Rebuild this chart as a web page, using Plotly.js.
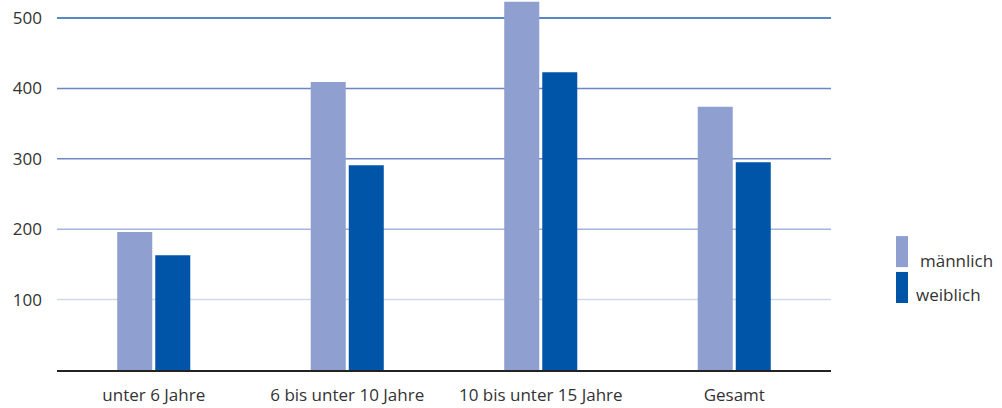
<!DOCTYPE html>
<html>
<head>
<meta charset="utf-8">
<script src="https://cdn.plot.ly/plotly-3.0.1.min.js"></script>
<style>html,body{margin:0;padding:0;background:#fff;}#chart{width:1002px;height:408px;}</style>
</head>
<body>
<div id="chart"></div>
<script>
const categories = ["unter 6 Jahre", "6 bis unter 10 Jahre", "10 bis unter 15 Jahre", "Gesamt"];
const maennlich = [196, 409, 523, 374];
const weiblich = [163, 291, 423, 295];
const seriesNames = ["männlich", "weiblich"];
const gridValues = [100, 200, 300, 400, 500];
const gridColors = ["#cfd9ec", "#a3b5dd", "#7089c5", "#6a87c4", "#1f60b5"];

const colM = "#8f9fd0";
const colW = "#0055a8";
const font = {family: "'Open Sans', Lato, sans-serif", size: 17, color: "#333333"};

const traces = [
  {type: "bar", name: seriesNames[0], x: categories, y: maennlich, marker: {color: colM}, hoverinfo: "x+y"},
  {type: "bar", name: seriesNames[1], x: categories, y: weiblich, marker: {color: colW}, hoverinfo: "x+y"}
];

const shapes = gridValues.map((v, i) => ({
  type: "line", xref: "paper", yref: "y", x0: 0, x1: 1, y0: v, y1: v,
  line: {color: gridColors[i], width: 1.5}, layer: "below"
}));
// custom legend swatches
const legendItems = [
  {name: seriesNames[0], color: colM, y0: 0.278, y1: 0.362, ty: 0.296, tx: 1.112},
  {name: seriesNames[1], color: colW, y0: 0.181, y1: 0.265, ty: 0.203, tx: 1.107}
];
legendItems.forEach(it => shapes.push({
  type: "rect", xref: "paper", yref: "paper", x0: 1.084, x1: 1.0995, y0: it.y0, y1: it.y1,
  fillcolor: it.color, line: {width: 0}
}));
const annotations = legendItems.map(it => ({
  xref: "paper", yref: "paper", x: it.tx, y: it.ty, text: it.name, showarrow: false,
  xanchor: "left", yanchor: "middle", font: font
}));

const layout = {
  width: 1002, height: 408,
  margin: {l: 57, r: 171, t: 0, b: 38},
  paper_bgcolor: "#ffffff", plot_bgcolor: "#ffffff",
  font: font,
  showlegend: false,
  barmode: "group", bargap: 0.607, bargroupgap: 0.079,
  xaxis: {
    type: "category", showgrid: false, zeroline: false,
    showline: true, linecolor: "#222222", linewidth: 1.5,
    ticks: "", tickfont: font, ticklabelstandoff: 9
  },
  yaxis: {
    range: [0, 525.6], showgrid: false, zeroline: false, showline: false,
    tickvals: gridValues, ticktext: gridValues.map(String), ticks: "",
    tickfont: font, ticklabelstandoff: 14
  },
  shapes: shapes,
  annotations: annotations
};

Plotly.newPlot("chart", traces, layout, {displayModeBar: false, staticPlot: true});
</script>
</body>
</html>
